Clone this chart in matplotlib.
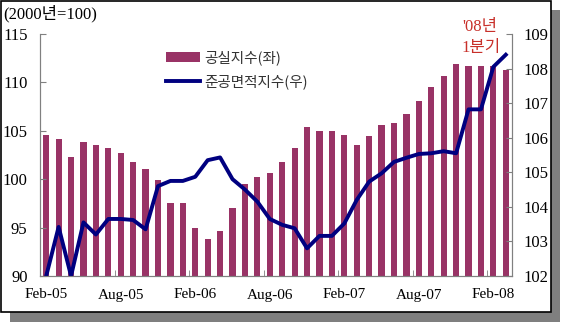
import matplotlib
matplotlib.use('Agg')
import matplotlib.pyplot as plt
from matplotlib.patches import Rectangle, Patch
from matplotlib.lines import Line2D

# Monthly data, Feb-05 .. Mar-08
vacancy_index = [104.6, 104.2, 102.3, 103.8, 103.5, 103.2, 102.7, 101.8, 101.1, 99.9,
                 97.5, 97.5, 95.0, 93.8, 94.6, 97.0, 99.5, 100.2, 100.6, 101.8,
                 103.2, 105.4, 105.0, 105.0, 104.6, 103.5, 104.5, 105.6, 105.8, 106.7,
                 108.1, 109.5, 110.7, 111.9, 111.7, 111.7, 111.7, 111.3]
completion_index = [102.0, 103.42, 102.0, 103.55, 103.2, 103.65, 103.65, 103.62, 103.35, 104.6,
                    104.75, 104.75, 104.87, 105.35, 105.43, 104.8, 104.5, 104.15, 103.65, 103.48,
                    103.38, 102.8, 103.16, 103.16, 103.52, 104.2, 104.73, 104.97, 105.3, 105.42,
                    105.53, 105.55, 105.61, 105.55, 106.82, 106.82, 108.05, 108.4]
tick_labels = ['Feb-05', 'Aug-05', 'Feb-06', 'Aug-06', 'Feb-07', 'Aug-07', 'Feb-08']
legend_labels = ['공실지수(좌)', '준공면적지수(우)']

SERIF = ['Liberation Serif', 'Noto Sans CJK KR']
BAR_COLOR = '#993366'
LINE_COLOR = '#000080'

fig = plt.figure(figsize=(5.62, 3.26), dpi=100)
W, H = 562, 326

# Shadow and framed box behind the chart
fig.patches.append(Rectangle((10 / W, 4 / H), 550 / W, 312 / H, transform=fig.transFigure,
                             facecolor='#7f7f7f', edgecolor='none', zorder=-3))
fig.patches.append(Rectangle((1 / W, 14 / H), 550 / W, 311 / H, transform=fig.transFigure,
                             facecolor='white', edgecolor='black', linewidth=1.2, zorder=-2))

ax1 = fig.add_axes([40 / W, 50 / H, 472 / W, 242 / H])
ax1.patch.set_alpha(0)
x = list(range(len(vacancy_index)))
ax1.bar(x, vacancy_index, width=0.5, color=BAR_COLOR)
ax1.set_ylim(90, 115)
ax1.set_yticks([90, 95, 100, 105, 110, 115])
ax1.set_xlim(-0.5, len(x) - 0.5)

ax2 = ax1.twinx()
ax2.plot(x, completion_index, color=LINE_COLOR, linewidth=2.8, solid_joinstyle='round')
ax2.set_ylim(102, 109)
ax2.set_yticks(range(102, 110))

# Category labels every 6 months, tick marks at the category boundaries
ax1.set_xticks(range(0, len(x), 6))
ax1.set_xticklabels(tick_labels)
ax1.set_xticks([k + 0.5 for k in range(5, len(x), 6)], minor=True)
ax1.tick_params(axis='x', which='major', length=0, pad=9)
ax1.tick_params(axis='x', which='minor', direction='in', length=4, color='#808080')

for ax in (ax1, ax2):
    for side, sp in ax.spines.items():
        sp.set_color('#808080')
        sp.set_visible(side != 'top')
    for lab in ax.get_xticklabels():
        lab.set_family(SERIF)
        lab.set_fontsize(11)
    for lab in ax.get_yticklabels():
        lab.set_family(SERIF)
        lab.set_fontsize(12)
ax1.tick_params(axis='y', direction='in', length=4, color='#808080', pad=9)
ax2.tick_params(axis='y', direction='in', length=4, color='#808080', pad=8)

# Legend
handles = [Patch(facecolor=BAR_COLOR, edgecolor='none'),
           Line2D([], [], color=LINE_COLOR, linewidth=2.8)]
leg = ax2.legend(handles, legend_labels, loc='upper left',
                 bbox_to_anchor=(153 / W, 1 - 37 / H), bbox_transform=fig.transFigure,
                 frameon=False, handlelength=2.3, handletextpad=0.3, labelspacing=0.65,
                 prop={'family': 'Noto Sans CJK KR', 'size': 10.5})
for t in leg.get_texts():
    t.set_color('#333333')

fig.text(3 / W, 1 - 14 / H, '(2000년=100)', family=SERIF, fontsize=12, va='center')
fig.text(480 / W, 1 - 27 / H, "'08년", family=SERIF, fontsize=12, color='#c8302a',
         ha='center', va='center')
fig.text(481 / W, 1 - 48 / H, '1분기', family=SERIF, fontsize=12, color='#c8302a',
         ha='center', va='center')

fig.savefig('out.png', dpi=100)
